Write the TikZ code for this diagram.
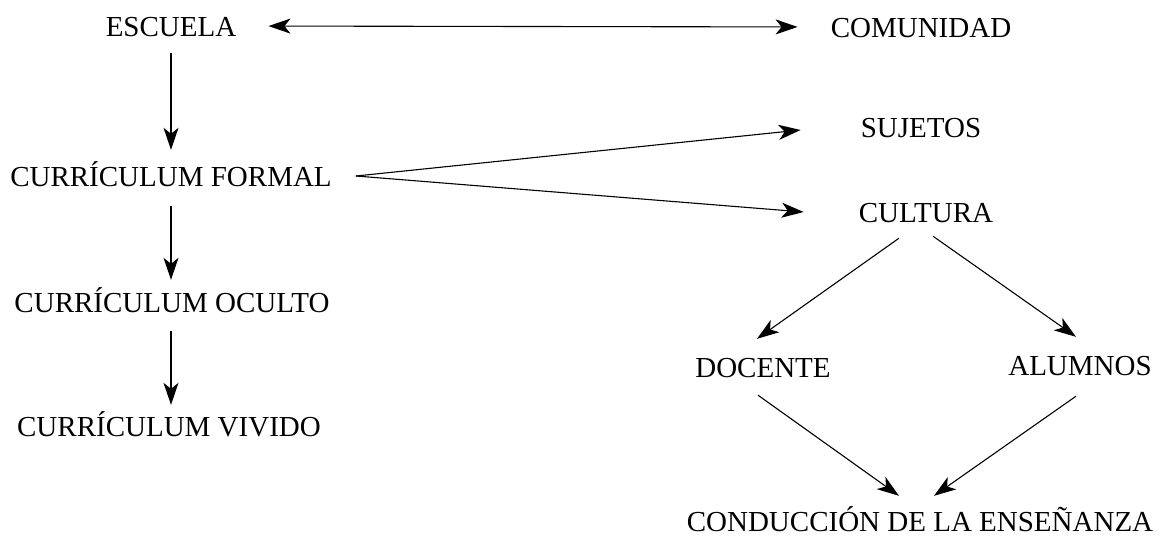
\documentclass[tikz,border=0pt]{standalone}
\usepackage{fontspec}
\setmainfont{Liberation Serif}
\usetikzlibrary{arrows.meta}

\tikzset{
    concepto/.style={inner sep=0pt,text height=20pt,text depth=0pt,font=\fontsize{29}{34}\selectfont},
    punta/.tip={Stealth[length=22pt,width=15pt,inset=6pt]},
    flecha/.style={line width=1.1pt,-punta},
    dobleflecha/.style={line width=1.1pt,punta-punta}
}

\begin{document}
\begin{tikzpicture}[x=1pt,y=-1pt]
        \useasboundingbox (0,0) rectangle (1167,536);
        %% left column
        \node[concepto] (escuela) at (171,26) {ESCUELA};
        \node[concepto] (formal) at (171,176) {CURRÍCULUM FORMAL};
        \node[concepto] (oculto) at (172,302) {CURRÍCULUM OCULTO};
        \node[concepto] (vivido) at (169,426) {CURRÍCULUM VIVIDO};
        %% right column
        \node[concepto] (comunidad) at (921,27) {COMUNIDAD};
        \node[concepto] (sujetos) at (921,127) {SUJETOS};
        \node[concepto] (cultura) at (926,212) {CULTURA};
        \node[concepto] (docente) at (763,367) {DOCENTE};
        \node[concepto] (alumnos) at (1080,365) {ALUMNOS};
        \node[concepto] (conduccion) at (920,521) {CONDUCCIÓN DE LA ENSEÑANZA};
        % Arrows
        \draw[dobleflecha,shorten <=32pt,shorten >=33pt] (escuela.east) -- (comunidad.west);
        \draw[flecha,shorten <=17pt,shorten >=16pt] (escuela.south) -- (formal.north);
        \draw[flecha,shorten <=20pt,shorten >=12pt] (formal.south) -- (formal.south |- oculto.north);
        \draw[flecha,shorten <=19pt,shorten >=11pt] (formal.south |- oculto.south) -- (formal.south |- vivido.north);
        \draw[flecha] ([xshift=24pt]formal.east) -- ([shift={(-60pt,-3pt)}]sujetos.west);
        \draw[flecha] ([xshift=24pt]formal.east) -- ([xshift=-55pt]cultura.west);
        \draw[flecha] ([shift={(-27pt,-16pt)}]cultura.south) -- ([shift={(-6pt,18pt)}]docente.north);
        \draw[flecha] ([shift={(7pt,-14pt)}]cultura.south) -- ([shift={(-4pt,18pt)}]alumnos.north);
        \draw[flecha] ([shift={(-5pt,-18pt)}]docente.south) -- ([shift={(-21pt,15pt)}]conduccion.north);
        \draw[flecha] ([shift={(-4pt,-21pt)}]alumnos.south) -- ([shift={(14pt,15pt)}]conduccion.north);
\end{tikzpicture}
\end{document}
